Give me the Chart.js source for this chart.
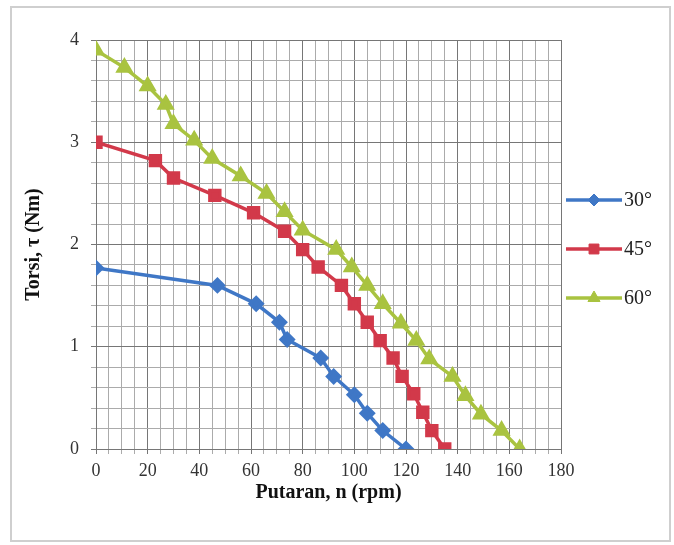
<!DOCTYPE html>
<html lang="en">
<head>
    <meta charset="UTF-8">
    <title>Torsi vs Putaran</title>
    <script src="https://cdn.jsdelivr.net/npm/chart.js"></script>
    <style>
        body {
            margin: 0;
            background: #ffffff;
        }
        .chart-box {
            width: 674px;
            height: 545px;
            position: relative;
        }
    </style>
</head>
<body>

<div class="chart-box">
    <canvas id="torqueChart" width="674" height="545"></canvas>
</div>

<script>
    // series labels
    const seriesNames = ['30°', '45°', '60°'];

    // 30 degree blade angle
    const rpm30 = [0, 47, 62, 71, 74, 87, 92, 100, 105, 111, 120];
    const torque30 = [1.77, 1.6, 1.42, 1.24, 1.07, 0.89, 0.71, 0.53, 0.35, 0.18, 0];

    // 45 degree
    const rpm45 = [0, 23, 30, 46, 61, 73, 80, 86, 95, 100, 105, 110, 115, 118.5, 123, 126.5, 130, 135];
    const torque45 = [3.0, 2.82, 2.65, 2.48, 2.31, 2.13, 1.95, 1.78, 1.6, 1.42, 1.24, 1.06, 0.89, 0.71, 0.54, 0.36, 0.18, 0];

    // 60 degree
    const rpm60 = [0, 11, 20, 27, 30, 38, 45, 56, 66, 73, 80, 93, 99, 105, 111, 118, 124, 129, 138, 143, 149, 157, 164];
    const torque60 = [3.9, 3.73, 3.55, 3.37, 3.18, 3.02, 2.84, 2.67, 2.5, 2.32, 2.14, 1.95, 1.78, 1.6, 1.42, 1.23, 1.06, 0.88, 0.71, 0.52, 0.34, 0.18, 0];

    const xTickLabels = [0, 20, 40, 60, 80, 100, 120, 140, 160, 180];
    const yTickLabels = [0, 1, 2, 3, 4];

    const colors = ['#3f77c6', '#d2394a', '#a9c340'];
    const markers = ['rectRot', 'rect', 'triangle'];
    const markerSizes = [6, 7, 7];

    function toPoints(xs, ys) {
        return xs.map((x, i) => ({ x: x, y: ys[i] }));
    }

    const seriesData = [
        toPoints(rpm30, torque30),
        toPoints(rpm45, torque45),
        toPoints(rpm60, torque60)
    ];

    const serif = "'Liberation Serif', 'Times New Roman', serif";

    // frame around whole figure + legend drawn by hand (line with marker in the middle)
    const extrasPlugin = {
        id: 'extras',
        beforeDraw(chart) {
            const ctx = chart.ctx;
            ctx.save();
            ctx.strokeStyle = '#cfcfcf';
            ctx.lineWidth = 2;
            ctx.strokeRect(11, 7, 659, 534);
            ctx.restore();
        },
        afterDraw(chart) {
            const ctx = chart.ctx;
            const rows = [200, 249, 298];
            ctx.save();
            chart.data.datasets.forEach((ds, i) => {
                const y = rows[i];
                ctx.strokeStyle = ds.borderColor;
                ctx.lineWidth = 3.5;
                ctx.beginPath();
                ctx.moveTo(566, y);
                ctx.lineTo(622, y);
                ctx.stroke();
                ctx.fillStyle = ds.pointBackgroundColor;
                ctx.strokeStyle = ds.borderColor;
                ctx.lineWidth = 1;
                Chart.helpers.drawPoint(ctx, {
                    pointStyle: ds.pointStyle,
                    radius: ds.pointRadius,
                    borderWidth: 1
                }, 594, y);
                ctx.fillStyle = '#222';
                ctx.font = '20px ' + serif;
                ctx.textBaseline = 'middle';
                ctx.textAlign = 'left';
                ctx.fillText(ds.label, 624, y + 1);
            });
            ctx.restore();
        }
    };

    new Chart(document.getElementById('torqueChart').getContext('2d'), {
        type: 'scatter',
        data: {
            datasets: seriesData.map((pts, i) => ({
                label: seriesNames[i],
                data: pts,
                showLine: true,
                borderColor: colors[i],
                backgroundColor: colors[i],
                pointBackgroundColor: colors[i],
                pointBorderColor: colors[i],
                borderWidth: 3.5,
                pointStyle: markers[i],
                pointRadius: markerSizes[i],
                pointHoverRadius: markerSizes[i],
                tension: 0
            }))
        },
        options: {
            responsive: false,
            animation: false,
            layout: {
                padding: { left: 22, top: 40, right: 113, bottom: 40 }
            },
            plugins: {
                legend: { display: false },
                tooltip: { enabled: false }
            },
            scales: {
                x: {
                    type: 'linear',
                    min: 0,
                    max: 180,
                    afterFit: scale => { scale.height = 56; },
                    afterBuildTicks: scale => {
                        const t = [];
                        for (let v = 0; v <= 180; v += 5) t.push({ value: v });
                        scale.ticks = t;
                    },
                    ticks: {
                        autoSkip: false,
                        maxRotation: 0,
                        padding: 6,
                        color: '#333',
                        font: { family: serif, size: 18 },
                        callback: v => (xTickLabels.includes(v) ? v : '')
                    },
                    grid: {
                        color: c => (c.tick && c.tick.value % 20 === 0 ? '#767676' : '#ababab'),
                        lineWidth: 1,
                        tickLength: 5
                    },
                    border: { color: '#767676', width: 1 },
                    title: {
                        display: true,
                        text: 'Putaran, n (rpm)',
                        color: '#111',
                        font: { family: serif, size: 20, weight: 'bold' },
                        padding: { top: 0, bottom: 0 }
                    }
                },
                y: {
                    type: 'linear',
                    min: 0,
                    max: 4,
                    afterFit: scale => { scale.width = 74; },
                    afterBuildTicks: scale => {
                        const t = [];
                        for (let k = 0; k <= 20; k++) t.push({ value: k / 5 });
                        scale.ticks = t;
                    },
                    ticks: {
                        autoSkip: false,
                        padding: 12,
                        color: '#333',
                        font: { family: serif, size: 18 },
                        callback: v => {
                            const r = Math.round(v);
                            return Math.abs(v - r) < 1e-6 && yTickLabels.includes(r) ? r : '';
                        }
                    },
                    grid: {
                        color: c => {
                            const v = c.tick ? c.tick.value : 0;
                            return Math.abs(v - Math.round(v)) < 1e-6 ? '#767676' : '#ababab';
                        },
                        lineWidth: 1,
                        tickLength: 5
                    },
                    border: { color: '#767676', width: 1 },
                    title: {
                        display: true,
                        text: 'Torsi, τ (Nm)',
                        color: '#111',
                        font: { family: serif, size: 20, weight: 'bold' },
                        padding: { top: 0, bottom: 0 }
                    }
                }
            }
        },
        plugins: [extrasPlugin]
    });
</script>

</body>
</html>
